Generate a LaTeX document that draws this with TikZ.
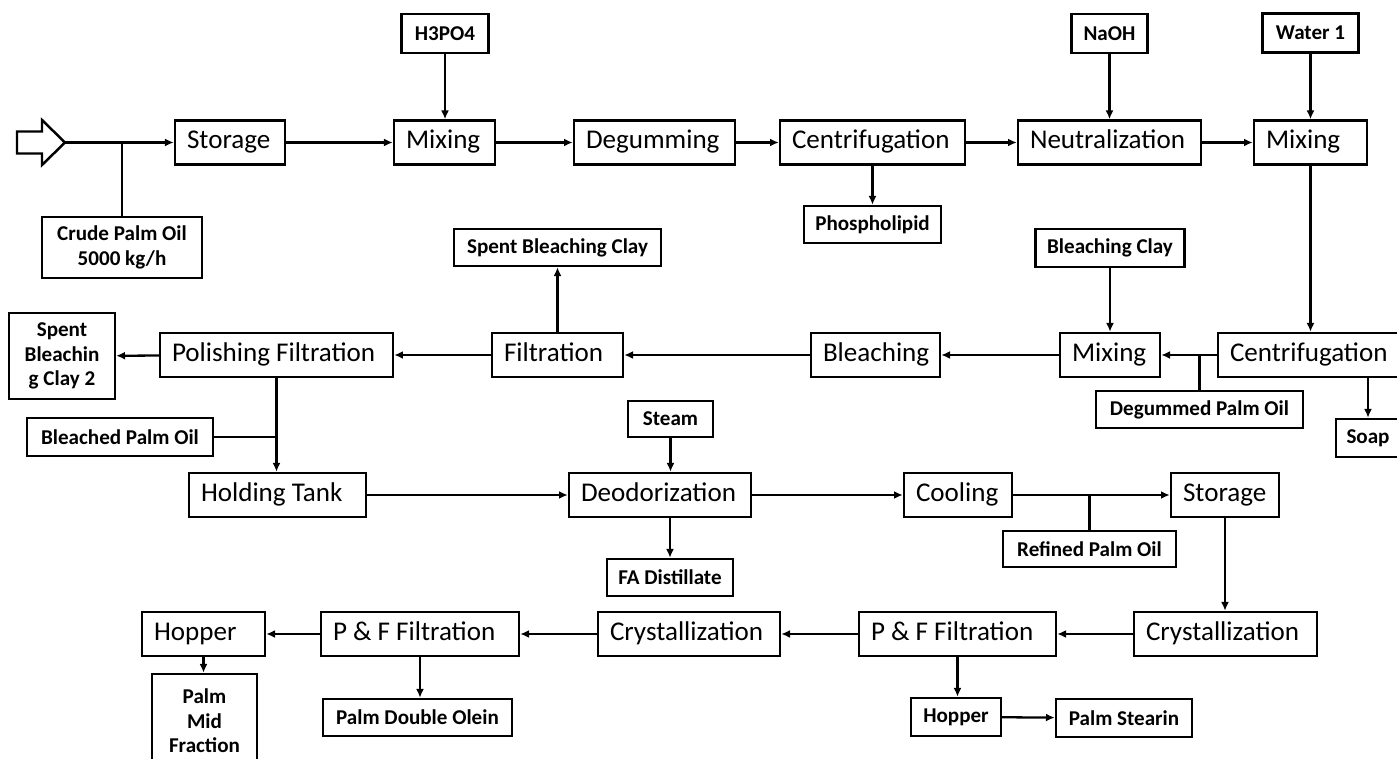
\documentclass[tikz,border=0pt]{standalone}
\usepackage{fontspec}
\setmainfont{Carlito}
\usepackage{tikz}
\usetikzlibrary{arrows.meta}

\newcommand{\boxtext}[2]{\hbox to #1{#2\hfil}}

\begin{document}
\begin{tikzpicture}[x=0.02cm, y=-0.02cm,
        proc/.style={draw, line width=1.4pt, font=\fontsize{15.4}{18}\selectfont, text height=0.7em, text depth=0pt, inner xsep=0.24cm, inner ysep=0pt, minimum height=0.88cm},
        lbl/.style={draw, line width=1.4pt, font=\bfseries\fontsize{12}{14}\selectfont, align=center, inner sep=0pt, minimum height=0.76cm},
        flow/.style={line width=1.3pt, -{Latex[length=5pt,width=4.5pt]}},
        link/.style={line width=1.3pt}]

        \useasboundingbox (0,0) rectangle (1397,759);
        \clip (0,0) rectangle (1397,759);

        % Feed
        \draw[line width=1.4pt] (17,131.5) -- (42,131.5) -- (42,120) -- (65,142.5) -- (42,165) -- (42,153.5) -- (17,153.5) -- cycle;
        \coordinate (feed) at (65,142.5);
        \node[lbl, minimum width=3.2cm, minimum height=1.22cm] (crude) at (122,247.5) {Crude Palm Oil\\5000 kg/h};

        % Degumming and neutralization
        \node[proc] (st1) at (230,142.5) {\boxtext{1.72cm}{Storage}};
        \node[proc] (mix1) at (444.5,142.5) {\boxtext{1.54cm}{Mixing}};
        \node[proc] (deg) at (654.5,142.5) {\boxtext{2.74cm}{Degumming}};
        \node[proc] (cen1) at (872.5,142.5) {\boxtext{3.22cm}{Centrifugation}};
        \node[proc] (neu) at (1109.5,142.5) {\boxtext{3.18cm}{Neutralization}};
        \node[proc] (mix2) at (1310.5,142.5) {\boxtext{1.78cm}{Mixing}};
        \node[lbl, minimum width=1.74cm, minimum height=0.78cm] (hpo) at (445,33.5) {H3PO4};
        \node[lbl, minimum width=1.52cm, minimum height=0.78cm] (naoh) at (1109.5,33.5) {NaOH};
        \node[lbl, minimum width=1.92cm, minimum height=0.78cm] (wat) at (1310.5,33) {Water 1};
        \node[lbl, minimum width=2.74cm, minimum height=0.74cm] (phos) at (872.5,224.5) {Phospholipid};

        % Bleaching
        \node[proc] (cen2) at (1311,355) {\boxtext{3.24cm}{Centrifugation}};
        \node[proc] (mix3) at (1110,355) {\boxtext{1.52cm}{Mixing}};
        \node[proc] (blch) at (875.5,355) {\boxtext{2.10cm}{Bleaching}};
        \node[proc] (filt) at (557.5,355) {\boxtext{2.14cm}{Filtration}};
        \node[proc] (pol) at (276.5,355) {\boxtext{4.18cm}{Polishing Filtration}};
        \node[lbl, minimum width=2.98cm] (bclay) at (1110,248) {Bleaching Clay};
        \node[lbl, minimum width=4.14cm, minimum height=0.74cm] (dpo) at (1199.5,409.5) {Degummed Palm Oil};
        \node[lbl, minimum width=1.28cm] (soap) at (1368,438) {Soap};
        \node[lbl, minimum width=4.14cm, minimum height=0.74cm] (sbc) at (557.5,247.5) {Spent Bleaching Clay};
        \node[lbl, minimum width=2.12cm, minimum height=1.72cm] (sbc2) at (62,356) {Spent\\Bleachin\\g Clay 2};
        \node[lbl, minimum width=3.72cm] (bpo) at (120,437) {Bleached Palm Oil};

        % Deodorization
        \node[proc] (hold) at (277.5,495) {\boxtext{3.06cm}{Holding Tank}};
        \node[proc] (deo) at (660,495) {\boxtext{3.16cm}{Deodorization}};
        \node[proc] (cool) at (958,495) {\boxtext{1.68cm}{Cooling}};
        \node[proc] (st2) at (1225,495) {\boxtext{1.68cm}{Storage}};
        \node[lbl, minimum width=1.7cm, minimum height=0.72cm] (steam) at (670.5,419) {Steam};
        \node[lbl, minimum width=2.52cm, minimum height=0.74cm] (fad) at (670,577.5) {FA Distillate};
        \node[lbl, minimum width=3.46cm, minimum height=0.72cm] (rpo) at (1089.5,549) {Refined Palm Oil};

        % Fractionation
        \node[proc] (cry1) at (1225.5,634) {\boxtext{3.18cm}{Crystallization}};
        \node[proc] (pf2) at (957.5,634) {\boxtext{3.46cm}{P \& F Filtration}};
        \node[proc] (cry2) at (689,634) {\boxtext{3.16cm}{Crystallization}};
        \node[proc] (pf1) at (420,634) {\boxtext{3.48cm}{P \& F Filtration}};
        \node[proc] (hop1) at (203.5,634) {\boxtext{1.98cm}{Hopper}};
        \node[lbl, minimum width=1.8cm] (hop2) at (956,717) {Hopper};
        \node[lbl, minimum width=2.72cm] (pst) at (1124,718) {Palm Stearin};
        \node[lbl, minimum width=3.78cm, minimum height=0.74cm] (pdo) at (417.5,717.5) {Palm Double Olein};
        \node[lbl, minimum width=2.1cm, minimum height=1.88cm] (pmf) at (204.5,721) {Palm\\Mid\\Fraction};

        % Main line
        \draw[flow] (feed) -- (st1);
        \foreach \a/\b in {st1/mix1, mix1/deg, deg/cen1, cen1/neu, neu/mix2,
                           cen2/mix3, mix3/blch, blch/filt, filt/pol, pol/sbc2,
                           hold/deo, deo/cool, cool/st2,
                           cry1/pf2, pf2/cry2, cry2/pf1, pf1/hop1, hop2/pst}
            \draw[flow] (\a) -- (\b);

        % Feeds and products
        \foreach \a/\b in {hpo/mix1, naoh/neu, wat/mix2, cen1/phos, mix2/cen2, bclay/mix3,
                           steam/deo, pol/hold, st2/cry1, pf2/hop2, pf1/pdo, hop1/pmf}
            \draw[flow] (\a) -- (\a |- \b.north);
        \draw[flow] (deo.south -| fad) -- (fad);
        \draw[flow] (cen2.south -| soap) -- (soap);
        \draw[flow] (filt) -- (filt |- sbc.south);

        % Side streams
        \draw[link] (crude) -- (crude |- feed);
        \draw[link] (dpo) -- (dpo |- cen2);
        \draw[link] (bpo) -- (bpo -| pol);
        \draw[link] (rpo) -- (rpo |- cool);
    \end{tikzpicture}
\end{document}
